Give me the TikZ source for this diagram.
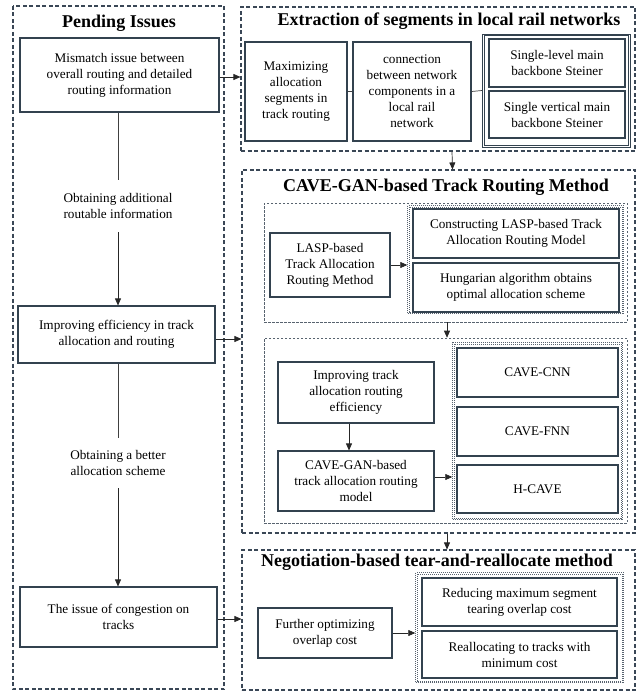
\documentclass[tikz,border=0pt]{standalone}
\usepackage{fontspec}
\setmainfont{Liberation Serif}
\usetikzlibrary{arrows.meta,fit}
\definecolor{frame}{HTML}{3A4756}
\definecolor{bord}{HTML}{33424F}
\begin{document}
\begin{tikzpicture}[x=1pt,y=-1pt,
  txt/.style={font=\fontsize{13.2}{16}\selectfont, align=center, text=black},
  box/.style={txt, draw=bord, line width=1.1pt, inner sep=0pt},
  ttl/.style={font=\fontsize{18}{20}\selectfont\bfseries, text=black},
  outer/.style={draw=frame, line width=1.1pt, dash pattern=on 4pt off 2.5pt},
  sub/.style={draw=frame!85, line width=0.6pt, dash pattern=on 2.5pt off 1.5pt},
  grp/.style={draw=frame!85, line width=0.5pt, dash pattern=on 1pt off 1pt},
  grpd/.style={draw=bord, line width=0.9pt},
  arr/.style={-{Triangle[length=7pt,width=6pt]}, line width=0.7pt, draw=black!85},
  ln/.style={line width=0.7pt, draw=black!75}]
\useasboundingbox (0,0) rectangle (636,693);

% ---- left column
\draw[outer] (13,6) rectangle (224,689);
\node[ttl] (tl) at (119,23) {Pending Issues};
\node[box, minimum width=199, minimum height=74] (b1) at (119.5,75)
  {Mismatch issue between\\overall routing and detailed\\routing information};
\node[txt, minimum width=150, minimum height=52, inner sep=0pt] (l1) at (118,206)
  {Obtaining additional\\routable information};
\node[box, minimum width=197, minimum height=57] (b2) at (116.5,334.5)
  {Improving efficiency in track\\allocation and routing};
\node[txt, minimum width=150, minimum height=50, inner sep=0pt] (l2) at (118,463)
  {Obtaining a better\\allocation scheme};
\node[box, minimum width=197, minimum height=60] (b3) at (118.5,617)
  {The issue of congestion on\\tracks};

\draw[ln] (b1.south -| l1.north) -- (l1.north);
\draw[arr] (l1.south) -- (l1.south |- b2.north);
\draw[ln] (b2.south -| l2.north) -- (l2.north);
\draw[arr] (l2.south) -- (l2.south |- b3.north);

% ---- section 1
\node[outer, minimum width=394, minimum height=144, inner sep=0pt] (s1) at (438,79) {};
\node[ttl] (t1) at (449,21) {Extraction of segments in local rail networks};
\node[box, minimum width=102, minimum height=99] (a1) at (296,91.5)
  {Maximizing\\allocation\\segments in\\track routing};
\node[box, minimum width=118, minimum height=99] (a2) at (412,91.5)
  {connection\\between network\\components in a\\local rail\\network};
\node[grpd, minimum width=148, minimum height=113, inner sep=0pt] (g0) at (556.5,90.5) {};
\draw[grpd] ([shift={(2.2pt,-2.2pt)}]g0.north west) rectangle ([shift={(-2.2pt,2.2pt)}]g0.south east);
\node[box, minimum width=136, minimum height=48] (st1) at (557,63)
  {Single-level main\\backbone Steiner};
\node[box, minimum width=136, minimum height=47] (st2) at (557,114.5)
  {Single vertical main\\backbone Steiner};
\draw[ln] (a1.east) -- (a2.west);
\draw[ln] (a2.east) -- (g0.west);

% ---- section 2
\node[outer, minimum width=393, minimum height=363, inner sep=0pt] (s2) at (438.5,351.5) {};
\node[ttl] (t2) at (446,187) {CAVE-GAN-based Track Routing Method};
\node[sub, minimum width=363, minimum height=119, inner sep=0pt] (u1) at (445.5,262.5) {};
\node[box, minimum width=120, minimum height=64] (la) at (330,265)
  {LASP-based\\Track Allocation\\Routing Method};
\node[grp, minimum width=216, minimum height=108, inner sep=0pt] (g1) at (515.5,259.5) {};
\draw[grp] ([shift={(1.8pt,-1.8pt)}]g1.north west) rectangle ([shift={(-1.8pt,1.8pt)}]g1.south east);
\node[box, minimum width=206, minimum height=49] (c1) at (516,233.5)
  {Constructing LASP-based Track\\Allocation Routing Model};
\node[box, minimum width=206, minimum height=49] (c2) at (516,287.5)
  {Hungarian algorithm obtains\\optimal allocation scheme};
\draw[arr] (la.east) -- (la.east -| g1.west);

\node[sub, minimum width=363, minimum height=185, inner sep=0pt] (u2) at (445.5,430.5) {};
\node[box, minimum width=156, minimum height=61] (im) at (356,392.5)
  {Improving track\\allocation routing\\efficiency};
\node[box, minimum width=156, minimum height=60] (mo) at (356,481)
  {CAVE-GAN-based\\track allocation routing\\model};
\node[grp, minimum width=170, minimum height=177, inner sep=0pt] (g2) at (537.5,431) {};
\draw[grp] ([shift={(1.8pt,-1.8pt)}]g2.north west) rectangle ([shift={(-1.8pt,1.8pt)}]g2.south east);
\node[box, minimum width=161, minimum height=49] (n1) at (537.5,372.5) {CAVE-CNN};
\node[box, minimum width=161, minimum height=49] (n2) at (537.5,431.5) {CAVE-FNN};
\node[box, minimum width=161, minimum height=48] (n3) at (537.5,489) {H-CAVE};
\draw[arr] ([xshift=-7pt]im.south) -- ([xshift=-7pt]mo.north);
\draw[arr] (mo.east |- 0,477) -- (g2.west |- 0,477);
\draw[arr] ([xshift=1.5pt]u1.south) -- ([xshift=1.5pt]u2.north);

% ---- section 3
\node[outer, minimum width=393, minimum height=140, inner sep=0pt] (s3) at (438.5,620) {};
\node[ttl] (t3) at (437,562) {Negotiation-based tear-and-reallocate method};
\node[box, minimum width=134, minimum height=50] (fo) at (325,633)
  {Further optimizing\\overlap cost};
\node[grp, minimum width=208, minimum height=110, inner sep=0pt] (g3) at (519.5,627.5) {};
\draw[grp] ([shift={(1.8pt,-1.8pt)}]g3.north west) rectangle ([shift={(-1.8pt,1.8pt)}]g3.south east);
\node[box, minimum width=195, minimum height=48] (r1) at (519.5,602)
  {Reducing maximum segment\\tearing overlap cost};
\node[box, minimum width=195, minimum height=47] (r2) at (519.5,654.5)
  {Reallocating to tracks with\\minimum cost};
\draw[arr] (fo.east) -- (fo.east -| g3.west);

% ---- inter-section arrows
\draw[arr] ([xshift=14pt]s1.south) -- ([xshift=14pt]s2.north);
\draw[arr] ([xshift=8.5pt]s2.south) -- ([xshift=8.5pt]s3.north);
\draw[arr] (b1.east |- 0,77) -- (s1.west |- 0,77);
\draw[arr] (b2.east |- 0,339) -- (s2.west |- 0,339);
\draw[arr] (b3.east |- 0,619) -- (s3.west |- 0,619);
\end{tikzpicture}
\end{document}
